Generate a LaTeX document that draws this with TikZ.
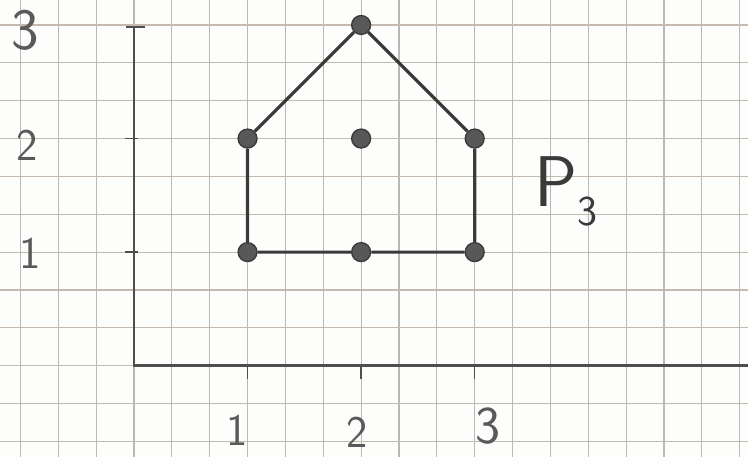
\documentclass[tikz,border=0pt]{standalone}
\usepackage{tikz}
\usetikzlibrary{positioning, calc}
\definecolor{clrgridv}{HTML}{B8B8B8}
\definecolor{clrgridh}{HTML}{C4BAB0}
\definecolor{clrpencil}{HTML}{3A3A3A}
\definecolor{clraxis}{HTML}{4E4E4E}
\definecolor{clrlabel}{HTML}{5A5A5A}
\definecolor{clrpaper}{HTML}{FDFDFB}

\begin{document}
\begin{tikzpicture}[
    every node/.style={font=\sffamily},
    gridv/.style={draw=clrgridv, line width=0.9pt},
    gridh/.style={draw=clrgridh, line width=0.9pt},
    axisline/.style={draw=clraxis, line width=1.8pt, line cap=round},
    tickline/.style={draw=clraxis, line width=1.2pt},
    edgeline/.style={draw=clrpencil, line width=2.4pt, line join=round},
    vertex/.style={circle, draw=clrpencil, fill=clrpencil!85, line width=1pt,
                   inner sep=0pt, minimum size=0.5cm},
    axislabel/.style={font=\sffamily\fontsize{34}{34}\selectfont, text=clrlabel},
]
\useasboundingbox[fill=clrpaper] (-3.54,-2.41) rectangle (16.22,9.66);
% squared paper
\foreach \gx in {-3,...,16} \draw[gridv] (\gx,-2.41) -- (\gx,9.66);
\foreach \gy in {-2,...,9} \draw[gridh] (-3.54,\gy) -- (16.22,\gy);
% axes
\coordinate (origin) at (0,0);
\coordinate (y_top) at (0,8.94);
\coordinate (x_end) at (16.22,0);
\draw[axisline] (y_top) -- (origin) -- (x_end);
\draw[tickline] ($(y_top)+(-0.2,0)$) -- ($(y_top)+(0.3,0)$);
\draw[tickline] (-0.25,6) -- (0.1,6);
\draw[tickline] (-0.25,3) -- (0.1,3);
\draw[tickline] (3,0) -- (3,-0.35);
\draw[tickline] (6,0) -- (6,-0.35);
\draw[tickline] (9,0) -- (9,-0.35);
% axis numbers
\node[axislabel, font=\sffamily\fontsize{44}{44}\selectfont] (ly_3) at (-2.88,8.86) {3};
\node[axislabel] (ly_2) at (-2.83,5.82) {2};
\node[axislabel] (ly_1) at (-2.75,2.96) {1};
\node[axislabel] (lx_1) at (2.72,-1.72) {1};
\node[axislabel] (lx_2) at (5.89,-1.75) {2};
\node[axislabel, font=\sffamily\fontsize{40}{40}\selectfont] (lx_3) at (9.35,-1.59) {3};
% polygon P3
\node[vertex] (v_1) at (3,3) {};
\node[vertex] (v_2) at (6,3) {};
\node[vertex] (v_3) at (9,3) {};
\node[vertex] (v_4) at (9,6) {};
\node[vertex] (v_5) at (6,9) {};
\node[vertex] (v_6) at (3,6) {};
\node[vertex] (v_in) at (6,6) {};
\draw[edgeline] (v_1) -- (v_2) -- (v_3) -- (v_4) -- (v_5) -- (v_6) -- (v_1);
\node[text=clrpencil, anchor=west] (lbl_p3) at (10.45,4.6)
    {\fontsize{54}{54}\selectfont P\raisebox{-0.6ex}{\fontsize{32}{32}\selectfont 3}};
\end{tikzpicture}
\end{document}
